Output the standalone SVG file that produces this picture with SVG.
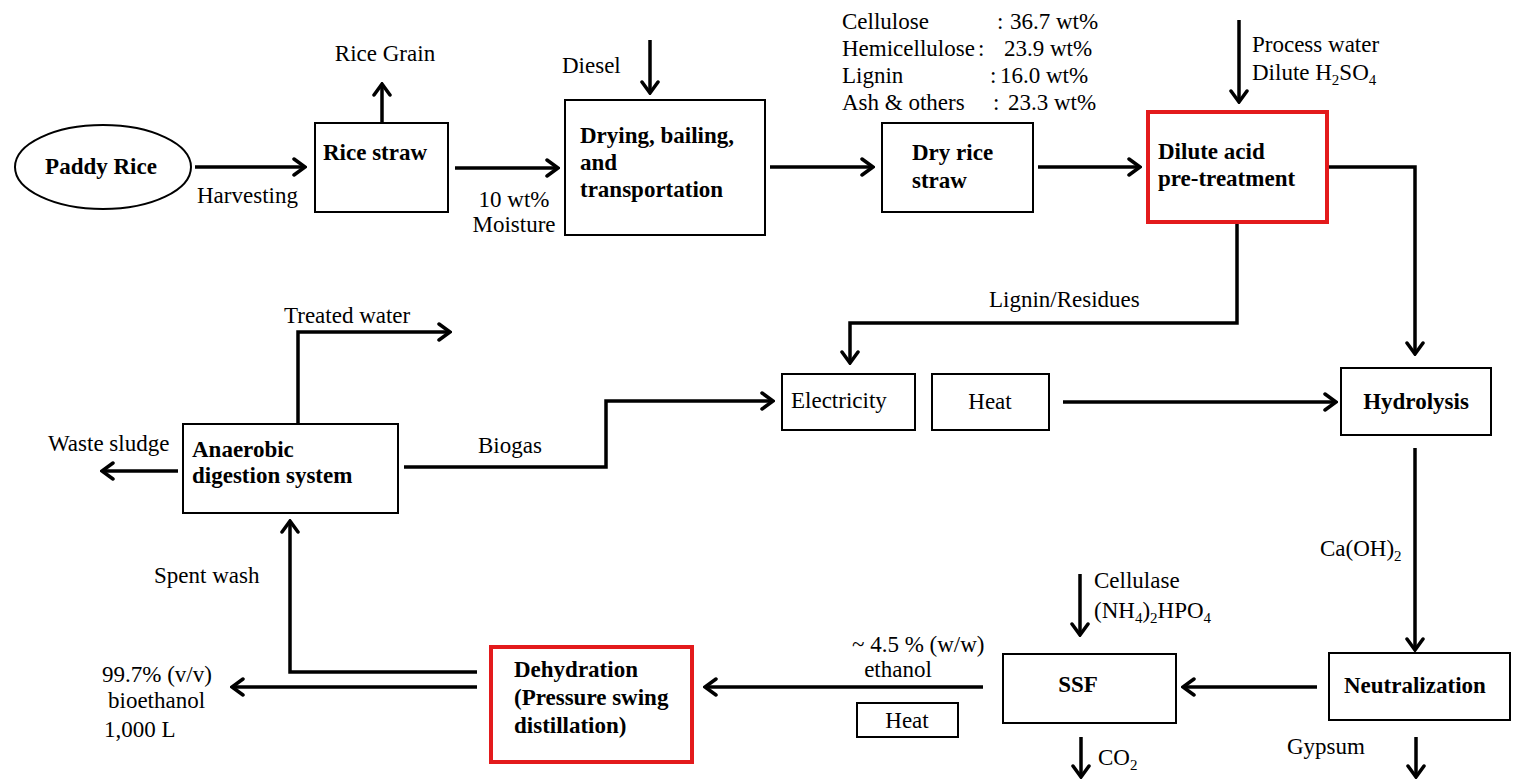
<svg xmlns="http://www.w3.org/2000/svg" width="1517" height="779" viewBox="0 0 1517 779">
<style>
text{font-family:"Liberation Serif","Times New Roman",serif;font-size:23px;fill:#000}
.b{font-weight:bold}
.box{fill:#fff;stroke:#000;stroke-width:2}
.red{fill:#fff;stroke:#e31a1c;stroke-width:4}
.c{fill:none;stroke:#000;stroke-width:3.5}
.a{marker-end:url(#ah)}
.sub{font-size:15px}
</style>
<defs>
<marker id="ah" viewBox="0 0 16 20" refX="14" refY="10" markerWidth="16" markerHeight="20" orient="auto" markerUnits="userSpaceOnUse">
<path d="M3,2 L14,10 L3,18" fill="none" stroke="#000" stroke-width="3.5" stroke-linecap="round" stroke-linejoin="miter"/>
</marker>
</defs>
<rect width="1517" height="779" fill="#fff"/>

<g id="connectors">
<path class="c a" d="M195,167 H305"/>
<path class="c a" d="M382,122 V84"/>
<path class="c a" d="M455,168 H558"/>
<path class="c a" d="M650,40 V93"/>
<path class="c a" d="M770,167 H873"/>
<path class="c a" d="M1038,167 H1140"/>
<path class="c a" d="M1239,20 V102"/>
<path class="c a" d="M1327,167 H1415 V354"/>
<path class="c a" d="M1237,222 V323 H850 V363"/>
<path class="c a" d="M404,467 H606 V401 H773"/>
<path class="c a" d="M1063,402 H1336"/>
<path class="c a" d="M1415,448 V650"/>
<path class="c a" d="M1317,687 H1183"/>
<path class="c a" d="M1080,574 V635"/>
<path class="c a" d="M1081,737 V777"/>
<path class="c a" d="M1416,737 V777"/>
<path class="c a" d="M983,687 H705"/>
<path class="c a" d="M477,687 H232"/>
<path class="c a" d="M477,672 H290 V521"/>
<path class="c a" d="M298,424 V332 H450"/>
<path class="c a" d="M178,471 H102"/>
</g>

<g id="paddy-rice">
<ellipse cx="103" cy="167" rx="88" ry="42" fill="#fff" stroke="#000" stroke-width="2"/>
<text class="b" x="101" y="174" text-anchor="middle">Paddy Rice</text>
</g>
<text x="197" y="203">Harvesting</text>

<g id="rice-straw">
<rect class="box" x="315" y="123" width="133" height="89"/>
<text class="b" x="323" y="160">Rice straw</text>
</g>
<text x="385" y="61" text-anchor="middle">Rice Grain</text>
<text x="514" y="207" text-anchor="middle">10 wt%</text>
<text x="514" y="232" text-anchor="middle">Moisture</text>
<text x="562" y="73">Diesel</text>

<g id="drying">
<rect class="box" x="565" y="100" width="200" height="135"/>
<text class="b" x="580" y="143">Drying, bailing,</text>
<text class="b" x="580" y="170">and</text>
<text class="b" x="580" y="197">transportation</text>
</g>

<g id="composition">
<text x="842" y="29">Cellulose</text><text x="997" y="29">:</text><text x="1010" y="29">36.7 wt%</text>
<text x="842" y="56">Hemicellulose</text><text x="978" y="56">:</text><text x="1004" y="56">23.9 wt%</text>
<text x="842" y="83">Lignin</text><text x="990" y="83">:</text><text x="1000" y="83">16.0 wt%</text>
<text x="842" y="110">Ash &amp; others</text><text x="993" y="110">:</text><text x="1008" y="110">23.3 wt%</text>
</g>

<g id="dry-rice-straw">
<rect class="box" x="882" y="123" width="151" height="89"/>
<text class="b" x="912" y="160">Dry rice</text>
<text class="b" x="912" y="188">straw</text>
</g>

<g id="dilute-acid">
<rect class="red" x="1148" y="112" width="179" height="110"/>
<text class="b" x="1158" y="159">Dilute acid</text>
<text class="b" x="1158" y="186">pre-treatment</text>
</g>
<text x="1252" y="52">Process water</text>
<text x="1252" y="80">Dilute H<tspan class="sub" dy="5">2</tspan><tspan dy="-5">SO</tspan><tspan class="sub" dy="5">4</tspan></text>

<text x="989" y="307">Lignin/Residues</text>

<g id="electricity">
<rect class="box" x="782" y="374" width="133" height="56"/>
<text x="791" y="408">Electricity</text>
</g>
<g id="heat-1">
<rect class="box" x="932" y="374" width="117" height="56"/>
<text x="990" y="409" text-anchor="middle">Heat</text>
</g>

<g id="hydrolysis">
<rect class="box" x="1341" y="368" width="150" height="67"/>
<text class="b" x="1416" y="409" text-anchor="middle">Hydrolysis</text>
</g>

<text x="284" y="323">Treated water</text>
<g id="anaerobic">
<rect class="box" x="183" y="424" width="215" height="89"/>
<text class="b" x="192" y="457">Anaerobic</text>
<text class="b" x="192" y="483">digestion system</text>
</g>
<text x="48" y="451">Waste sludge</text>
<text x="478" y="453">Biogas</text>
<text x="154" y="583">Spent wash</text>

<text x="1320" y="556">Ca(OH)<tspan class="sub" dy="5">2</tspan></text>

<g id="neutralization">
<rect class="box" x="1329" y="653" width="181" height="67"/>
<text class="b" x="1344" y="693">Neutralization</text>
</g>
<text x="1287" y="754">Gypsum</text>

<g id="ssf">
<rect class="box" x="1003" y="654" width="173" height="69"/>
<text class="b" x="1078" y="692" text-anchor="middle">SSF</text>
</g>
<text x="1094" y="588">Cellulase</text>
<text x="1094" y="618">(NH<tspan class="sub" dy="5">4</tspan><tspan dy="-5">)</tspan><tspan class="sub" dy="5">2</tspan><tspan dy="-5">HPO</tspan><tspan class="sub" dy="5">4</tspan></text>
<text x="1098" y="765">CO<tspan class="sub" dy="5">2</tspan></text>

<text x="852" y="652">~ 4.5 % (w/w)</text>
<text x="898" y="677" text-anchor="middle">ethanol</text>
<g id="heat-2">
<rect class="box" x="857" y="703" width="101" height="34"/>
<text x="907" y="728" text-anchor="middle">Heat</text>
</g>

<g id="dehydration">
<rect class="red" x="491" y="647" width="201" height="115"/>
<text class="b" x="514" y="677">Dehydration</text>
<text class="b" x="514" y="705">(Pressure swing</text>
<text class="b" x="514" y="733">distillation)</text>
</g>

<text x="102" y="682">99.7% (v/v)</text>
<text x="108" y="708">bioethanol</text>
<text x="104" y="737">1,000 L</text>
</svg>
